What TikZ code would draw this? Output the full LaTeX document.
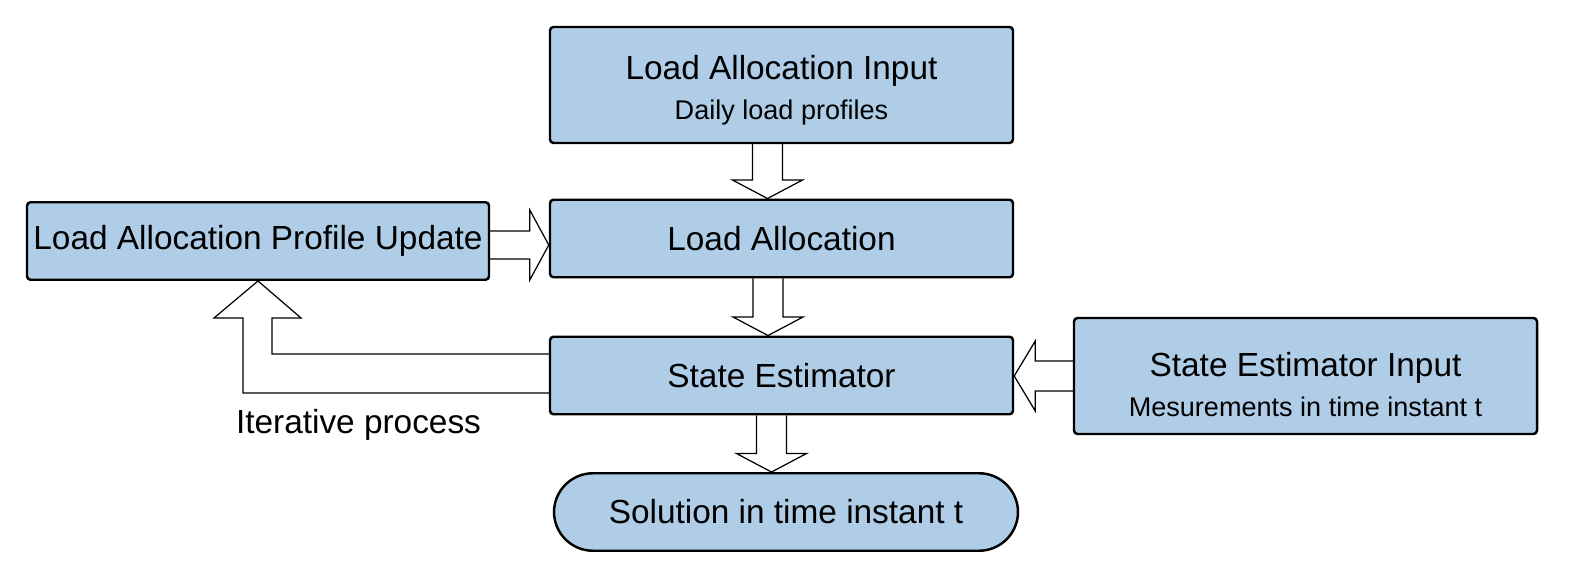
\documentclass[tikz,border=0pt]{standalone}
\usepackage{fontspec}
\setmainfont{Liberation Sans}
\usetikzlibrary{positioning, calc}
\definecolor{boxblue}{RGB}{175, 205, 230}
\newcommand{\boxfont}{\fontsize{19}{23}\selectfont}
\newcommand{\notefont}{\fontsize{15.4}{19}\selectfont}

\begin{document}
\begin{tikzpicture}[
    box/.style={rectangle, draw, line width=1.4pt, rounded corners=2pt, fill=boxblue, minimum width=9.26cm, minimum height=1.55cm, align=center, inner sep=0pt, font=\boxfont},
    bigbox/.style={box, minimum height=2.32cm},
    barrow/.style={draw, line width=0.7pt, line join=miter}
]
    \useasboundingbox (0,0) rectangle (31.38,-11.44);

    % Boxes
    \node[bigbox] (lai) at (15.63,-1.70) {\rule{0pt}{19.6pt}Load Allocation Input\\[0pt]\notefont Daily load profiles};
    \node[box] (la) at (15.63,-4.77) {Load Allocation};
    \node[box, minimum width=9.24cm] (lapu) at (5.16,-4.82) {Load Allocation Profile Update};
    \node[box] (se) at (15.63,-7.51) {State Estimator};
    \node[bigbox] (sei) at (26.11,-7.52) {\rule{0pt}{23.2pt}State Estimator Input\\[0pt]\notefont Mesurements in time instant t};
    \node[box, minimum width=9.28cm, rounded corners=0.78cm] (sol) at (15.72,-10.24) {Solution in time instant t};
    \node[font=\boxfont] (iter) at (7.17,-8.50) {Iterative process};

    % Downward block arrows
    \foreach \src/\dst/\dx in {lai/la/-0.28, la/se/-0.27, se/sol/-0.2} {
        \coordinate (d) at ($(\src.south)+(\dx,0)$);
        \draw[barrow] ($(d)+(-0.3,0)$) -- ($(d |- \dst.north)+(-0.3,0.37)$) -- ++(-0.4,0)
            -- (d |- \dst.north) -- ++(0.7,0.37) -- ++(-0.4,0) -- ($(d)+(0.3,0)$);
    }

    % Profile update into load allocation
    \coordinate (r1) at ($(lapu.east)+(0,-0.08)$);
    \draw[barrow] ($(r1)+(0,0.28)$) -- ($(r1 -| la.west)+(-0.38,0.28)$) -- ++(0,0.42)
        -- (r1 -| la.west) -- ++(-0.38,-0.7) -- ++(0,0.42) -- ($(r1)+(0,-0.28)$);

    % Measurements into state estimator
    \draw[barrow] ($(sei.west)+(0,0.3)$) -- ($(sei.west -| se.east)+(0.42,0.3)$) -- ++(0,0.4)
        -- (sei.west -| se.east) -- ++(0.42,-0.7) -- ++(0,0.4) -- ($(sei.west)+(0,-0.3)$);

    % Iterative feedback
    \draw[barrow] ($(se.west)+(0,0.43)$) -| ($(lapu.south)+(0.28,-0.74)$) -- ++(0.58,0)
        -- (lapu.south) -- ($(lapu.south)+(-0.88,-0.74)$) -- ++(0.58,0) |- ($(se.west)+(0,-0.35)$);
\end{tikzpicture}
\end{document}
